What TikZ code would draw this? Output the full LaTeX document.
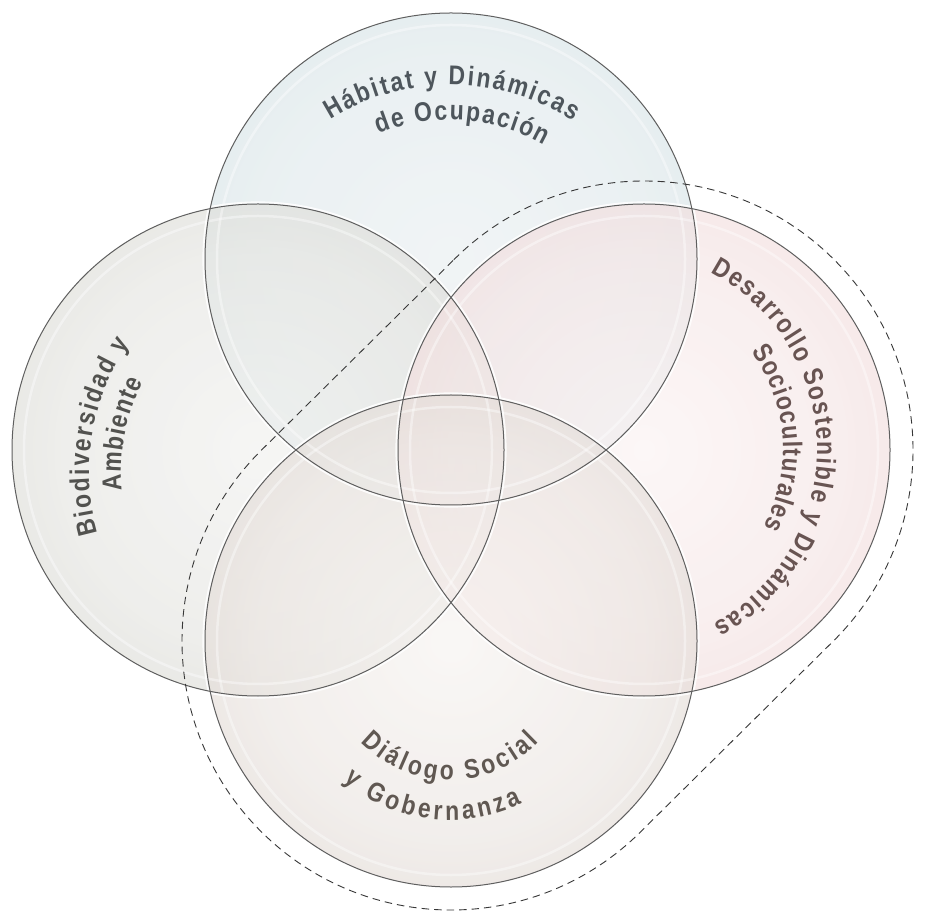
\documentclass[tikz,border=0pt]{standalone}
\usepackage{fontspec}
\newfontfamily\lblfont{Liberation Sans}[UprightFont={* Bold}, BoldFont={* Bold}, FakeStretch=0.85]
\newcommand\labelfont{\lblfont\fontsize{27}{31}\selectfont}
\usetikzlibrary{decorations.text,calc}
\pgfdeclareradialshading{topsh}{\pgfpoint{0bp}{0bp}}{rgb(0bp)=(0.915,0.938,0.946); rgb(20bp)=(0.877,0.915,0.926); rgb(31.5bp)=(0.823,0.877,0.892); rgb(40bp)=(0.785,0.846,0.869); rgb(46bp)=(0.738,0.815,0.838); rgb(50bp)=(0.677,0.769,0.80)}
\pgfdeclareradialshading{leftsh}{\pgfpoint{0bp}{0bp}}{rgb(0bp)=(0.946,0.946,0.938); rgb(20bp)=(0.90,0.90,0.885); rgb(31.5bp)=(0.838,0.838,0.815); rgb(40bp)=(0.80,0.80,0.777); rgb(46bp)=(0.762,0.762,0.731); rgb(50bp)=(0.708,0.708,0.677)}
\pgfdeclareradialshading{rightsh}{\pgfpoint{0bp}{0bp}}{rgb(0bp)=(0.985,0.954,0.954); rgb(20bp)=(0.962,0.90,0.90); rgb(31.5bp)=(0.938,0.838,0.838); rgb(40bp)=(0.923,0.80,0.80); rgb(46bp)=(0.908,0.754,0.754); rgb(50bp)=(0.877,0.692,0.692)}
\pgfdeclareradialshading{botsh}{\pgfpoint{0bp}{0bp}}{rgb(0bp)=(0.969,0.957,0.946); rgb(20bp)=(0.923,0.90,0.885); rgb(31.5bp)=(0.862,0.831,0.808); rgb(40bp)=(0.823,0.785,0.762); rgb(46bp)=(0.785,0.738,0.708); rgb(50bp)=(0.738,0.692,0.654)}
\definecolor{txtTop}{RGB}{78,86,92}
\definecolor{txtLeft}{RGB}{82,82,79}
\definecolor{txtRight}{RGB}{104,84,82}
\definecolor{txtBot}{RGB}{96,88,82}
\definecolor{rimline}{RGB}{95,95,95}
\definecolor{hullline}{RGB}{55,55,55}
\tikzset{
  disc/.style={shading=#1, opacity=0.65},
  halo/.style={draw=white, line width=2pt, opacity=0.85},
  ring/.style={draw=white, line width=2.5pt, opacity=0.4},
  outline/.style={draw=rimline, line width=1pt},
  hull/.style={draw=hullline, line width=0.9pt, dash pattern=on 7.5pt off 5pt},
  arclabel/.style 2 args={decorate, decoration={text along path,
     text={|\labelfont\color{#2}|#1}, text align=fit to path}}
}
\begin{document}
\begin{tikzpicture}[x=1pt,y=1pt]
\useasboundingbox (0,0) rectangle (926,911);
\fill[white] (0,0) rectangle (926,911);
% circle centres
\coordinate (T) at (451,652);
\coordinate (L) at (258,461);
\coordinate (R) at (644,461);
\coordinate (B) at (451,270);
% label arc centres
\coordinate (CT) at (450,600);
\coordinate (CL) at (313,439);
\coordinate (CR) at (617,462);
\coordinate (CB) at (450,255);
% fills
\shade[disc=topsh] (T) circle[radius=246];
\shade[disc=leftsh] (L) circle[radius=246];
\shade[disc=rightsh] (R) circle[radius=246];
\shade[disc=botsh] (B) circle[radius=246];
% inner light rings
\foreach \c in {T,L,R,B} { \draw[ring] (\c) circle[radius=234]; }
% halos and outlines
\foreach \c in {T,L,R,B} { \draw[halo] (\c) circle[radius=247.6]; }
\foreach \c in {T,L,R,B} { \draw[outline] (\c) circle[radius=246]; }
% dashed hull around right and bottom circles
\draw[hull] ($(R)+(135:269)$) arc[start angle=135, end angle=-45, radius=269]
   -- ($(B)+(-45:269)$) arc[start angle=-45, end angle=-225, radius=269] -- cycle;
% labels
\path[arclabel={Hábitat y Dinámicas}{txtTop}] ($(CT)+(122:226)$) arc[start angle=122, end angle=57, radius=226];
\path[arclabel={de Ocupación}{txtTop}] ($(CT)+(112:191)$) arc[start angle=112, end angle=60.5, radius=191];
\path[arclabel={Biodiversidad y}{txtLeft}] ($(CL)+(196:224)$) arc[start angle=196, end angle=145, radius=224];
\path[arclabel={Ambiente}{txtLeft}] ($(CL)+(185.5:192)$) arc[start angle=185.5, end angle=152, radius=192];
\path[arclabel={Desarrollo Sostenible y Dinámicas}{txtRight}] ($(CR)+(62:200)$) arc[start angle=62, end angle=-61, radius=200];
\path[arclabel={Socioculturales}{txtRight}] ($(CR)+(36:166)$) arc[start angle=36, end angle=-28, radius=166];
\path[arclabel={Diálogo Social}{txtBot}] ($(CB)+(-136:124)$) arc[start angle=-136, end angle=-44, radius=124];
\path[arclabel={y Gobernanza}{txtBot}] ($(CB)+(-130.5:164)$) arc[start angle=-130.5, end angle=-64, radius=164];
\end{tikzpicture}
\end{document}
